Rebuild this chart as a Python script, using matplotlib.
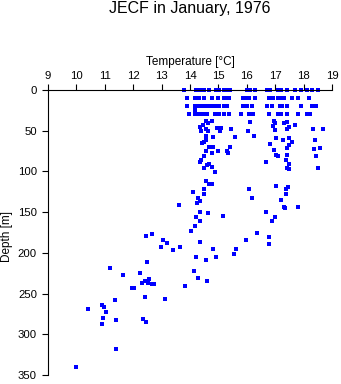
import matplotlib
matplotlib.use("Agg")
import matplotlib.pyplot as plt

plt.rcParams['font.family'] = ['Liberation Sans', 'DejaVu Sans']

title = "JECF in January, 1976"
xlabel = "Temperature [°C]"
ylabel = "Depth [m]"
x_ticks = [9, 10, 11, 12, 13, 14, 15, 16, 17, 18, 19]
y_ticks = [0, 50, 100, 150, 200, 250, 300, 350]

# Near-surface sampling rows
temp_0m = [13.80, 14.20, 14.29, 14.39, 14.49, 14.68, 14.92, 15.01, 15.21, 15.30, 15.40,
           16.00, 16.11, 16.30, 16.70, 16.82, 17.11, 17.20, 17.40, 17.70, 17.90, 18.11,
           18.31, 18.50]
temp_10m = [13.91, 14.18, 14.27, 14.33, 14.49, 14.76, 15.00, 15.20, 15.29, 15.38, 15.88,
            15.95, 16.09, 16.29, 16.79, 16.88, 16.93, 17.11, 17.23, 17.31, 17.60, 17.81,
            18.20]
temp_20m = [13.91, 14.18, 14.27, 14.35, 14.43, 14.52, 14.68, 14.76, 14.84, 14.92, 15.01,
            15.21, 15.29, 15.88, 16.00, 16.19, 16.70, 16.90, 17.17, 17.23, 17.40, 17.90,
            18.28, 18.42]
temp_25m = [14.19]
temp_30m = [13.98, 14.18, 14.27, 14.35, 14.44, 14.52, 14.60, 14.88, 14.96, 15.01, 15.21,
            15.38, 15.80, 16.09, 16.15, 16.21, 16.79, 17.11, 17.19, 17.40, 17.81, 18.11,
            18.17, 18.22]

# Deeper observations
deep_temp = [14.57, 14.65, 14.79, 14.47, 14.36, 14.96, 15.10, 14.55, 14.62, 14.38, 15.07,
             15.46, 16.03, 16.12, 16.97, 17.00, 17.32, 17.43, 17.71, 16.93, 17.50, 17.00,
             17.43, 18.33, 18.69, 14.55, 14.81, 15.60, 16.27, 17.02, 17.49, 14.56, 14.49,
             14.41, 17.29, 17.60, 17.50, 16.83, 18.41, 14.67, 14.82, 15.42, 14.57, 15.00,
             15.29, 15.35, 14.77, 16.97, 17.42, 18.38, 18.59, 14.50, 17.11, 17.03, 17.42,
             18.45, 14.39, 14.36, 17.39, 16.69, 14.61, 14.68, 17.50, 14.50, 14.79, 17.40,
             17.50, 18.52, 14.89, 14.57, 14.68, 14.77, 14.50, 14.12, 14.49, 16.09, 17.04,
             17.44, 17.39, 17.39, 14.29, 14.35, 14.26, 16.19, 17.21, 13.62, 17.30, 17.36,
             17.81, 14.34, 14.65, 16.69, 15.17, 14.21, 17.00, 14.36, 16.90, 14.19,
             14.05, 16.37, 16.79, 16.79, 15.97, 15.63, 15.56, 14.82, 14.92, 14.57, 14.22,
             14.35, 14.15, 14.29, 14.61, 13.83, 13.66, 13.41, 13.20, 13.06, 12.99, 12.67,
             12.45, 12.50, 12.25, 12.55, 12.43, 12.31, 12.52, 12.66, 12.74, 12.43, 13.13,
             12.33, 12.45, 11.65, 11.19, 11.96, 12.03, 11.37, 10.91, 10.98, 11.05, 10.95,
             10.91, 11.41, 11.41, 10.41, 9.99]
deep_depth = [38.1, 41.0, 38.5, 42.6, 45.0, 47.0, 47.0, 48.3, 50.0, 50.3, 50.8,
              47.9, 50.8, 38.9, 38.5, 40.0, 41.0, 39.7, 42.6, 44.2, 45.8, 49.0,
              48.3, 48.3, 48.3, 56.9, 58.0, 57.7, 56.9, 59.4, 59.4, 61.4, 63.9,
              65.5, 61.8, 64.3, 67.5, 66.7, 61.8, 69.6, 69.6, 70.4, 74.5, 75.3,
              75.3, 77.8, 77.8, 74.1, 71.6, 72.8, 71.6, 81.5, 81.5, 79.8, 79.4,
              81.5, 86.0, 88.4, 86.0, 88.4, 91.7, 91.3, 90.9, 96.2, 95.0, 95.8,
              96.6, 95.8, 100.7, 111.3, 115.8, 115.8, 122.0, 125.7, 127.7, 121.6, 118.3,
              118.7, 122.0, 127.4, 132.6, 135.9, 138.3, 132.6, 135.5, 141.6, 143.7, 144.5,
              143.3, 150.2, 151.4, 149.8, 154.7, 156.3, 156.3, 161.3, 160.9, 167.4,
              173.6, 176.0, 180.9, 189.5, 184.6, 195.6, 201.8, 195.6, 205.5, 209.2, 205.5,
              186.7, 222.7, 231.3, 234.2, 241.1, 193.2, 196.9, 188.3, 184.6, 192.4, 176.8,
              179.7, 211.6, 224.7, 232.5, 234.9, 237.4, 237.4, 238.6, 238.6, 254.6, 257.0,
              281.2, 285.3, 227.6, 218.2, 243.6, 243.6, 258.3, 264.4, 266.9, 272.6, 280.4,
              287.7, 282.8, 318.4, 269.3, 340.5]

temps = temp_0m + temp_10m + temp_20m + temp_25m + temp_30m + deep_temp
depths = ([0] * len(temp_0m) + [10] * len(temp_10m) + [20] * len(temp_20m)
          + [25] * len(temp_25m) + [30] * len(temp_30m) + deep_depth)

W, H = 341, 384
fig = plt.figure(figsize=(W / 100, H / 100), dpi=100)
ax = fig.add_axes([48 / W, 1 - 375 / H, (332 - 48) / W, (375 - 90) / H])

ax.plot(temps, depths, linestyle='none', marker='s', markersize=2.3,
        color='#0000ff', markeredgewidth=0, clip_on=False)

ax.set_xlim(9, 19)
ax.set_ylim(350, 0)
ax.set_xticks(x_ticks)
ax.set_yticks(y_ticks)
ax.xaxis.tick_top()
ax.spines['bottom'].set_visible(False)
ax.spines['right'].set_visible(False)
for s in ('top', 'left'):
    ax.spines[s].set_linewidth(0.8)
    ax.spines[s].set_color('black')
ax.tick_params(axis='both', direction='out', length=4, width=0.8, labelsize=8.2,
               colors='black', pad=2.5)
ax.tick_params(axis='y', pad=4)

fig.text(190 / W, 1 - 62 / H, xlabel, ha='center', va='center', fontsize=8.5)
fig.text(7 / W, 1 - 236 / H, ylabel, ha='center', va='center', fontsize=8.5,
         rotation=90)
fig.text(190 / W, 1 - 9 / H, title, ha='center', va='center', fontsize=11.5)

fig.savefig('out.png', dpi=100)
